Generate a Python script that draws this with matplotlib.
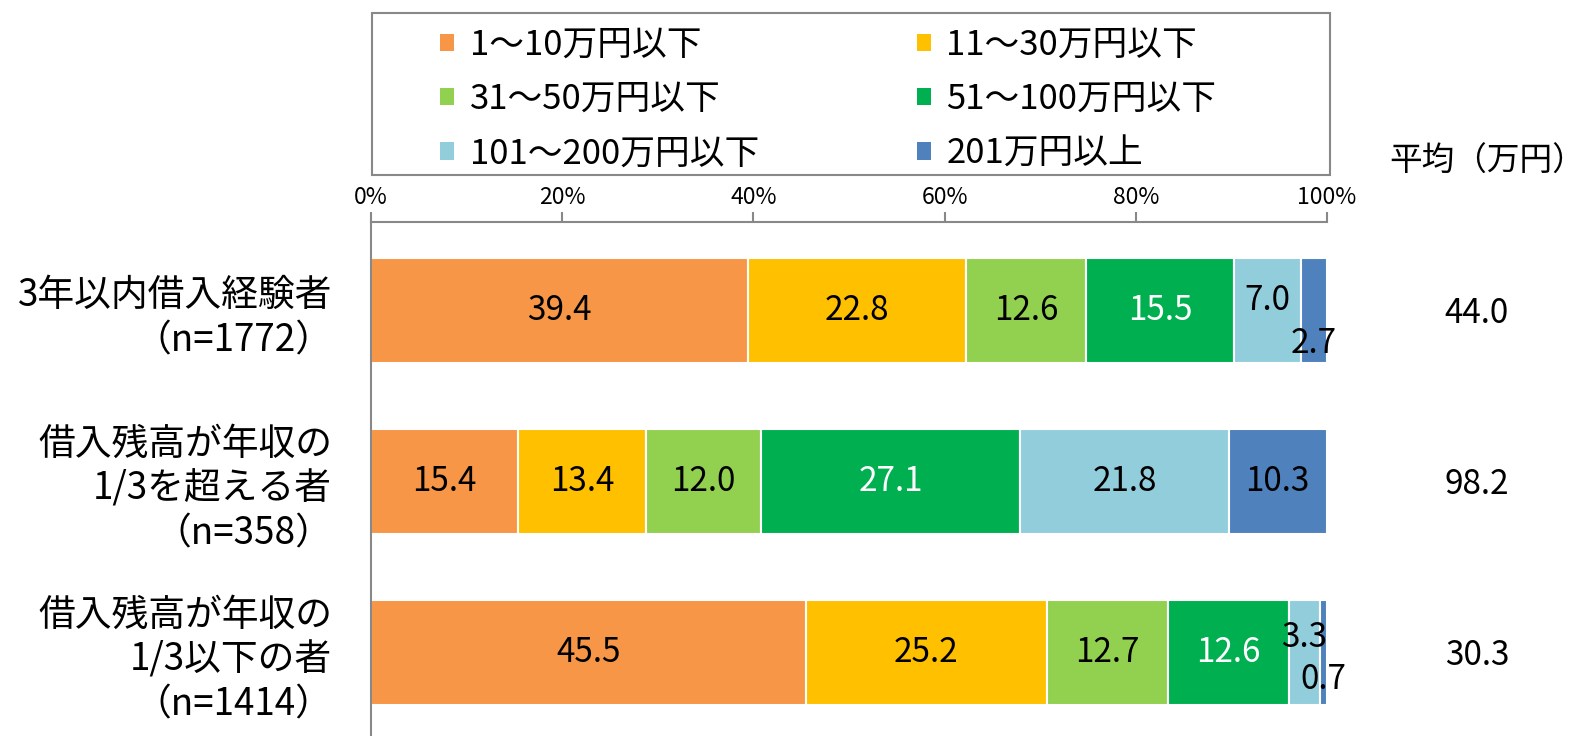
import numpy as np
import matplotlib
matplotlib.use("Agg")
import matplotlib.pyplot as plt
from matplotlib.patches import Patch, Rectangle

plt.rcParams['font.family'] = ['Noto Sans CJK JP', 'DejaVu Sans']

# data
groups = ['3年以内借入経験者\n（n=1772）',
          '借入残高が年収の\n1/3を超える者\n（n=358）',
          '借入残高が年収の\n1/3以下の者\n（n=1414）']
series = ['1～10万円以下', '11～30万円以下', '31～50万円以下',
          '51～100万円以下', '101～200万円以下', '201万円以上']
values = np.array([
    [39.4, 22.8, 12.6, 15.5, 7.0, 2.7],
    [15.4, 13.4, 12.0, 27.1, 21.8, 10.3],
    [45.5, 25.2, 12.7, 12.6, 3.3, 0.7],
])
averages = ['44.0', '98.2', '30.3']
avg_title = '平均（万円）'
xticks = [0, 20, 40, 60, 80, 100]

colors = ['#F79646', '#FFC000', '#92D050', '#00B050', '#92CDDC', '#4F81BD']
txt_colors = ['black', 'black', 'black', 'white', 'black', 'black']
# vertical nudges for labels of the thin segments (data units)
nudge = {(0, 4): -0.06, (0, 5): 0.19, (2, 4): -0.09, (2, 5): 0.16}

W, H = 1590, 736
fig = plt.figure(figsize=(W / 100, H / 100), dpi=100)
ax = fig.add_axes([371 / W, 1 - 755 / H, 956 / W, 533 / H])

y = np.arange(len(groups))
left = np.zeros(len(groups))
for j in range(len(series)):
    ax.barh(y, values[:, j], left=left, height=0.615, color=colors[j],
            edgecolor='white', linewidth=1.5)
    for i in range(len(groups)):
        cx = left[i] + values[i, j] / 2
        ax.text(cx, y[i] + nudge.get((i, j), 0), '%.1f' % values[i, j],
                ha='center', va='center', fontsize=24, color=txt_colors[j])
    left += values[:, j]

ax.set_xlim(0, 100)
ax.set_ylim(2.6, -0.518)
ax.xaxis.tick_top()
ax.set_xticks(xticks)
ax.set_xticklabels(['%d%%' % t for t in xticks], fontsize=16.5)
ax.tick_params(axis='x', length=7, width=1.5, color='#888888', pad=2)
ax.set_yticks(y)
ax.set_yticklabels(groups, fontsize=26.5, linespacing=1.2)
ax.tick_params(axis='y', length=0, pad=28)
for s in ['right', 'bottom']:
    ax.spines[s].set_visible(False)
for s in ['left', 'top']:
    ax.spines[s].set_color('#888888')
    ax.spines[s].set_linewidth(1.5)

# averages column
for i, a in enumerate(averages):
    ax.text((1477 - 371) / 956, y[i] + 0.02, a, transform=ax.get_yaxis_transform(),
            ha='center', va='center', fontsize=24)
fig.text(1487 / W, 1 - 162 / H, avg_title, ha='center', va='center', fontsize=23.5)

# legend box + legend (row-wise order, two columns)
fig.patches.append(Rectangle((372 / W, 1 - 175 / H), 958 / W, 162 / H,
                             transform=fig.transFigure, fill=False,
                             edgecolor='#888888', linewidth=1.5))
order = [0, 2, 4, 1, 3, 5]
handles = [Patch(facecolor=colors[k], edgecolor='none') for k in order]
labels = [series[k] for k in order]
fig.legend(handles, labels, ncol=2, loc='upper left',
           bbox_to_anchor=(440 / W, 1 - 28 / H), frameon=False, fontsize=25,
           handlelength=0.4, handleheight=0.4, handletextpad=0.45,
           borderpad=0, borderaxespad=0, labelspacing=0.55, columnspacing=4.55)

fig.savefig('out.png', dpi=100)
